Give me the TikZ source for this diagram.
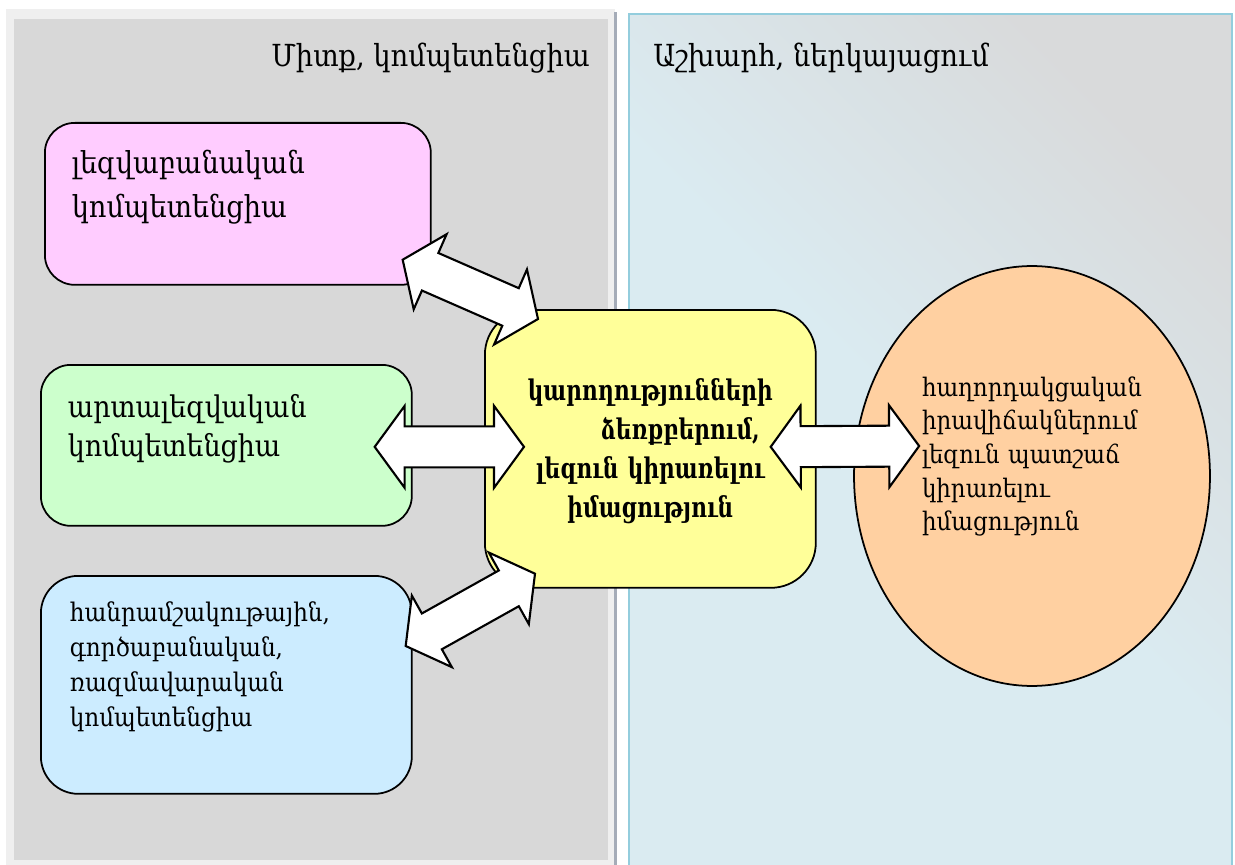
\documentclass[tikz,border=0pt]{standalone}
\usepackage{fontspec}
\setmainfont[FakeStretch=0.9]{DejaVu Serif}
\newfontfamily\corefont[FakeStretch=0.76]{DejaVu Serif}
\usetikzlibrary{calc,shapes.geometric}
\hyphenpenalty=10000 \exhyphenpenalty=10000

\definecolor{framegray}{HTML}{EFEFEF}
\definecolor{panelgray}{HTML}{D8D8D8}
\definecolor{shadowgray}{HTML}{A5ACB8}
\definecolor{worldblue}{HTML}{DAEBF1}
\definecolor{worldgray}{HTML}{D9DADB}
\definecolor{worldedge}{HTML}{93CDDD}
\definecolor{pinkfill}{HTML}{FFCCFF}
\definecolor{greenfill}{HTML}{CCFFCC}
\definecolor{bluefill}{HTML}{CCECFF}
\definecolor{yellowfill}{HTML}{FFFF99}
\definecolor{peachfill}{HTML}{FFD0A1}

% double block arrow between two coordinates
\newcommand{\dbarrow}[2]{%
  \draw[blockarrow] (#1)
    -- ($(#1)!0.6cm!(#2)!0.82cm!90:(#2)$)
    -- ($(#1)!0.6cm!(#2)!0.41cm!90:(#2)$)
    -- ($(#2)!0.6cm!(#1)!0.41cm!-90:(#1)$)
    -- ($(#2)!0.6cm!(#1)!0.82cm!-90:(#1)$)
    -- (#2)
    -- ($(#2)!0.6cm!(#1)!0.82cm!90:(#1)$)
    -- ($(#2)!0.6cm!(#1)!0.41cm!90:(#1)$)
    -- ($(#1)!0.6cm!(#2)!0.41cm!-90:(#2)$)
    -- ($(#1)!0.6cm!(#2)!0.82cm!-90:(#2)$)
    -- cycle;}

\tikzset{
  box/.style={draw, line width=1pt, rounded corners=#1, anchor=north west, inner ysep=0pt, align=left},
  box/.default=0.6cm,
  blockarrow/.style={draw, fill=white, line width=1.2pt, line join=miter},
  title/.style={anchor=base west, inner sep=0pt, font=\fontsize{17.3}{22}\selectfont}
}

\begin{document}
\begin{tikzpicture}[x=0.02cm, y=-0.02cm]
\useasboundingbox (0,0) rectangle (1235,865);
% panels
\fill[framegray] (6,9) rectangle (615,865);
\fill[panelgray] (14,19) rectangle (608,860);
\fill[shadowgray] (614,12) rectangle (617,865);
\draw[worldedge, line width=0.04cm, top color=worldgray, bottom color=worldblue, middle color=worldblue, shading angle=-45]
  (629,14) rectangle (1232,868);
\node[title] (mind) at (271,67) {Միտք, կոմպետենցիա};
\node[title] (world) at (653,67) {Աշխարհ, ներկայացում};

% boxes
\node[box, fill=pinkfill, inner xsep=0.54cm, text width=6.64cm, text height=1.02cm, text depth=2.22cm,
  font=\fontsize{17.2}{24.9}\selectfont] (ling) at (44,122) {լեզվաբանական\\կոմպետենցիա};
\node[box, fill=greenfill, inner xsep=0.54cm, text width=6.34cm, text height=1.06cm, text depth=2.16cm,
  font=\fontsize{17}{22.1}\selectfont] (extra) at (40,364) {արտալեզվական\\կոմպետենցիա};
\node[box=0.75cm, fill=bluefill, inner xsep=0.58cm, text width=6.26cm, text height=0.92cm, text depth=3.44cm,
  font=\fontsize{14.6}{19.8}\selectfont] (cult) at (40,575) {հանրամշակութային,\\գործաբանական,\\ռազմավարական\\կոմպետենցիա};
\node[box=0.9cm, fill=yellowfill, inner xsep=0.2cm, text width=6.22cm, text height=1.82cm, text depth=3.74cm, align=center,
  font=\corefont\bfseries\fontsize{16.2}{22.2}\selectfont] (core) at (484,309)
  {կարողությունների\\\hspace*{1.2cm}ձեռքբերում,\\լեզուն կիրառելու\\իմացություն};
\node[ellipse, draw, line width=1pt, fill=peachfill, minimum width=7.12cm, minimum height=8.4cm, inner sep=0pt,
  text width=4.4cm, text height=0pt, text depth=3.2cm, align=left,
  font=\fontsize{14.5}{19.2}\selectfont] (use) at (1032,476)
  {հաղորդակցական\\իրավիճակներում\\լեզուն պատշաճ\\կիրառելու\\իմացություն};

% arrows
\path
  ($(ling.south east)+(-29,-26)$) coordinate (A1)
  ($(core.north west)+(54,10)$) coordinate (B1)
  ($(extra.east)+(-38,1.5)$) coordinate (A2)
  ($(core.west)+(40,-2)$) coordinate (B2)
  ($(cult.north east)+(-7,71)$) coordinate (A3)
  ($(core.south west)+(51,-15)$) coordinate (B3)
  ($(core.east)+(-46,-2)$) coordinate (A4)
  ($(use.west)+(66,-30)$) coordinate (B4);
\foreach \s/\t in {A1/B1,A2/B2,A3/B3,A4/B4}
  {\dbarrow{\s}{\t}}
\end{tikzpicture}
\end{document}
